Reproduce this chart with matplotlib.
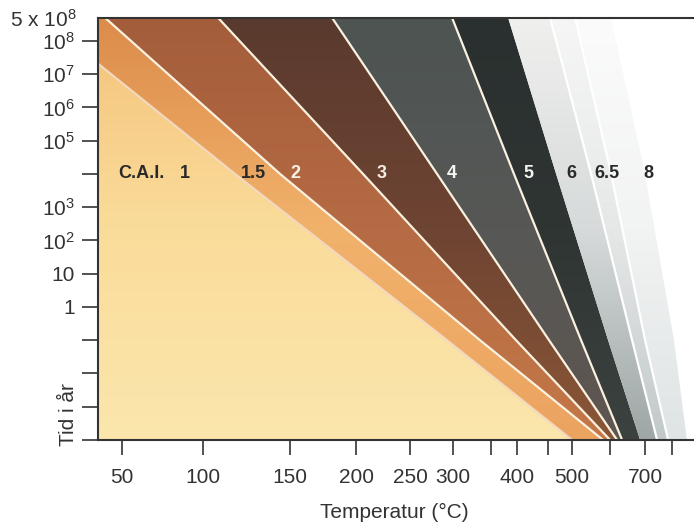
import numpy as np
import matplotlib.pyplot as plt
from matplotlib.colors import LinearSegmentedColormap
from matplotlib.patches import Polygon

plt.rcParams['font.family'] = ['Liberation Sans', 'DejaVu Sans']
plt.rcParams['mathtext.fontset'] = 'custom'
plt.rcParams['mathtext.rm'] = 'Liberation Sans'
plt.rcParams['mathtext.it'] = 'Liberation Sans'

# x axis: temperature scale as drawn in the figure (tick spacing)
scale_T = [0, 50, 100, 150, 200, 250, 300, 350, 400, 450, 500, 600, 700, 800, 1000]
scale_u = [41, 122, 203, 290, 356, 410, 453, 491, 517, 548, 572, 610, 645, 672, 726]

x_ticks = [50, 100, 150, 200, 250, 300, 350, 400, 450, 500, 600, 700, 800]
x_ticklabels = ['50', '100', '150', '200', '250', '300', '', '400', '', '500', '', '700', '']

y_ticks = [1e8, 1e7, 1e6, 1e5, 1e4, 1e3, 1e2, 1e1, 1, 1e-1, 1e-2, 1e-3, 1e-4]
y_ticklabels = [r'$10^8$', r'$10^7$', r'$10^6$', r'$10^5$', '', r'$10^3$', r'$10^2$',
                '10', '1', '', '', '', '']

# boundaries between the C.A.I. zones: temperature (°C) at each time level (years)
bound_t = [5e8, 1e4, 1e-1, 1e-4]
b_1_15 = [0, 118.4, 293, 500]
b_15_2 = [39.5, 144.3, 335.5, 581.6]
b_2_3 = [108.6, 206.5, 398, 600]
b_3_4 = [181.8, 281.4, 452, 620]
b_4_5 = [298.8, 394, 523.7, 634.3]
b_5_6 = [382.7, 466.7, 594.7, 685.7]
b_6_65 = [454.2, 550, 662.9, 744.4]
b_65_8 = [507.9, 602.9, 700, 785.2]
b_8_x = [605.7, 703.7, 811, 859]
bounds = [b_1_15, b_15_2, b_2_3, b_3_4, b_4_5, b_5_6, b_6_65, b_65_8, b_8_x]

# zone colours (bottom, middle, top)
zone_colors = [
    ['#fbe6ad', '#fadc9a', '#f4c27a'],
    ['#eba360', '#f1b26c', '#dc8c4a'],
    ['#c47848', '#b56b43', '#a45d3b'],
    ['#8a5637', '#6e4432', '#5a3a2e'],
    ['#5e5550', '#575856', '#4d5452'],
    ['#3c4240', '#2f3533', '#2a302f'],
    ['#9ea6a6', '#d6dada', '#f0f0ee'],
    ['#c2c9c9', '#e6e8e8', '#f6f6f6'],
    ['#dfe4e4', '#f2f3f3', '#fbfbfb'],
]
line_colors = ['#f4d8bd', '#fbf1e0', '#fbf1e0', '#fbf1e0', '#fbf1e0', None,
               '#ffffff', '#ffffff', '#ffffff']

cai_labels = ['C.A.I.', '1', '1.5', '2', '3', '4', '5', '6', '6.5', '8']
cai_label_T = [62, 89, 129, 154, 224, 299, 419, 498, 592, 711]
cai_label_colors = ['#2a2a2a', '#2a2a2a', '#2a2a2a', '#fbf3e6', '#f5eee4', '#f5f5f2',
                    '#f5f5f2', '#2a2a2a', '#2a2a2a', '#2a2a2a']

fig = plt.figure(figsize=(6.94, 5.23), dpi=100)
ax = fig.add_axes([98 / 694, 83 / 523, 596 / 694, 422.3 / 523])

fwd = lambda T: np.interp(T, scale_T, scale_u)
inv = lambda u: np.interp(u, scale_u, scale_T)
ax.set_xscale('function', functions=(fwd, inv))
ax.set_yscale('log')

grad = np.linspace(1, 0, 256)[:, None]
for i, cols in enumerate(zone_colors):
    right = list(zip(bounds[i], bound_t))
    if i == 0:
        left = [(0, bound_t[-1]), (0, bound_t[0])]
    else:
        left = list(zip(bounds[i - 1], bound_t))[::-1]
    poly = Polygon(right + left, closed=True, facecolor='none', edgecolor='none',
                   transform=ax.transData)
    ax.add_patch(poly)
    cmap = LinearSegmentedColormap.from_list('z%d' % i, cols)
    im = ax.imshow(grad, extent=[0, 1, 0, 1], transform=ax.transAxes, cmap=cmap,
                   aspect='auto', interpolation='bilinear', zorder=1, vmin=0, vmax=1)
    im.set_clip_path(poly)

for b, c in zip(bounds, line_colors):
    if c is None:
        continue
    ax.plot(b, bound_t, color=c, lw=1.6, zorder=2, solid_capstyle='butt')

for lab, T, c in zip(cai_labels, cai_label_T, cai_label_colors):
    ax.text(T, 1e4, lab, color=c, fontsize=13, fontweight='bold',
            ha='center', va='center', zorder=3)

ax.set_xlim(35.2, 881)
ax.set_ylim(1e-4, 5e8)

ax.set_xticks(x_ticks)
ax.set_xticklabels(x_ticklabels)
ax.xaxis.set_minor_locator(plt.NullLocator())
ax.set_yticks(y_ticks)
ax.set_yticklabels(y_ticklabels)
ax.yaxis.set_minor_locator(plt.NullLocator())

ax.tick_params(axis='x', direction='out', length=11, width=1.2, pad=9,
               labelsize=15, colors='#333333')
ax.tick_params(axis='y', direction='out', length=11.5, width=1.2, pad=5,
               labelsize=15, colors='#333333')
for s in ['left', 'bottom', 'top']:
    ax.spines[s].set_color('#333333')
    ax.spines[s].set_linewidth(1.5)
ax.spines['right'].set_visible(False)

fig.text(77 / 694, 1 - 20 / 523, r'5 x $10^8$', ha='right', va='center',
         fontsize=15, color='#333333')
fig.text(394 / 694, 1 - 512 / 523, 'Temperatur (°C)', ha='center', va='center',
         fontsize=15, color='#333333')
fig.text(68 / 694, 1 - 415 / 523, 'Tid i år', ha='center', va='center',
         rotation=90, fontsize=15, color='#333333')

fig.savefig('out.png', dpi=100)
